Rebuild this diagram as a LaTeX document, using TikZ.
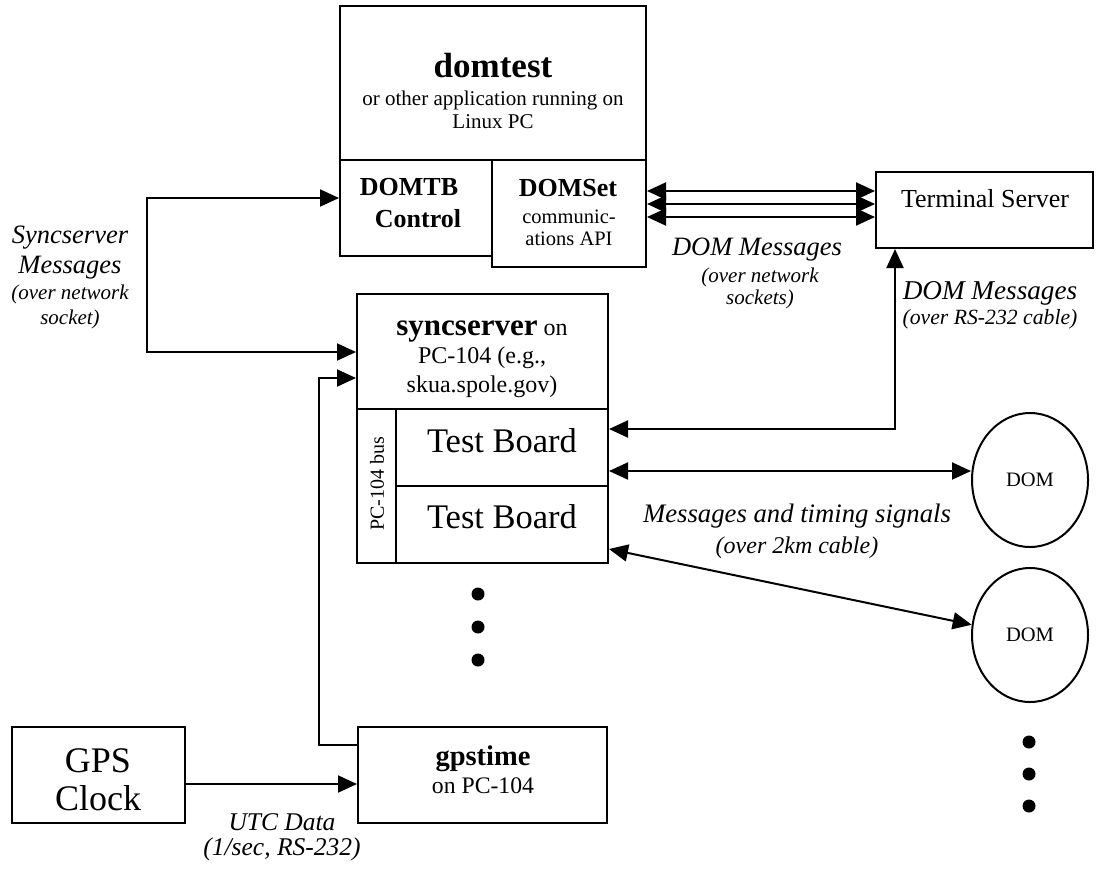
\documentclass[tikz,border=0pt]{standalone}
\usepackage{fontspec}
\setmainfont{Liberation Serif}
\usetikzlibrary{arrows.meta,shapes.geometric}
\newcommand\fsz[1]{\fontsize{#1}{#1}\selectfont}
\begin{document}
\begin{tikzpicture}[x=1pt,y=-1pt,
  box/.style={draw, line width=2pt, rectangle, inner sep=0pt},
  domell/.style={draw, line width=2pt, ellipse, inner sep=0pt, minimum width=116pt, minimum height=134pt, font=\fsz{20.5}},
  txt/.style={anchor=base, inner sep=0pt},
  dotn/.style={circle, fill=black, inner sep=0pt, minimum size=13pt},
  conn/.style={line width=2pt},
  arr/.style={conn, -{Triangle[length=19pt,width=17pt]}},
  darr/.style={conn, {Triangle[length=19pt,width=17pt]}-{Triangle[length=19pt,width=17pt]}}]
\useasboundingbox[fill=white] (0,0) rectangle (1099,871);

% boxes
\node[box, minimum width=306pt, minimum height=154pt] (domtest) at (493,83) {};
\node[box, minimum width=152pt, minimum height=96pt] (DOMTB) at (416,208) {};
\node[box, minimum width=154pt, minimum height=107pt] (DOMSet) at (569,213.5) {};
\node[box, minimum width=217pt, minimum height=76pt] (TS) at (984.5,210) {};
\node[box, minimum width=251pt, minimum height=115pt] (sync) at (482.5,351.5) {};
\node[box, minimum width=39pt, minimum height=154pt] (bus) at (376.5,486) {};
\node[box, minimum width=212pt, minimum height=77pt] (TB1) at (502,447.5) {};
\node[box, minimum width=212pt, minimum height=77pt] (TB2) at (502,524.5) {};
\node[box, minimum width=173pt, minimum height=96pt] (GPS) at (98.5,775) {};
\node[box, minimum width=249pt, minimum height=96pt] (gpstime) at (482.5,775) {};
\node[domell] (DOM1) at (1030,480) {DOM};
\node[domell] (DOM2) at (1030,635) {DOM};

% texts
\node[txt, font=\fsz{35}\bfseries] (t1) at (493,77) {domtest};
\node[txt, font=\fsz{21}] (t2) at (493,105) {or other application running on};
\node[txt, font=\fsz{21}] (t3) at (493,128) {Linux PC};
\node[txt, font=\fsz{26}\bfseries] (t4) at (409,195) {DOMTB};
\node[txt, font=\fsz{26}\bfseries] (t5) at (418,227) {Control};
\node[txt, font=\fsz{26}\bfseries] (t6) at (568,196) {DOMSet};
\node[txt, font=\fsz{20.5}] (t7) at (569,223) {communic-};
\node[txt, font=\fsz{20.5}] (t8) at (569,245) {ations API};
\node[txt, font=\fsz{26}] (t9) at (985,207) {Terminal Server};
\node[txt, font=\fsz{26.5}\itshape] (t10) at (757,255) {DOM Messages};
\node[txt, font=\fsz{21}\itshape] (t11) at (760,282) {(over network};
\node[txt, font=\fsz{21}\itshape] (t12) at (760,304) {sockets)};
\node[txt, font=\fsz{26.5}\itshape] (t13) at (70,243) {Syncserver};
\node[txt, font=\fsz{26.5}\itshape] (t14) at (70,273) {Messages};
\node[txt, font=\fsz{21}\itshape] (t15) at (70,299) {(over network};
\node[txt, font=\fsz{21}\itshape] (t16) at (70,324) {socket)};
\node[txt, font=\fsz{24}] (t17) at (482,335) {{\fsz{31}\bfseries syncserver} on};
\node[txt, font=\fsz{24}] (t18) at (482,363) {PC-104 (e.g.,};
\node[txt, font=\fsz{24}] (t19) at (482,392) {skua.spole.gov)};
\node[txt, font=\fsz{34.5}] (t20) at (502,452) {Test Board};
\node[txt, font=\fsz{34.5}] (t21) at (502,528) {Test Board};
\node[font=\fsz{20}, rotate=90, inner sep=0pt] (t22) at (377,484) {PC-104 bus};
\node[txt, font=\fsz{26.7}\itshape] (t23) at (797,522) {Messages and timing signals};
\node[txt, font=\fsz{24}\itshape] (t24) at (797,553) {(over 2km cable)};
\node[txt, font=\fsz{27.2}\itshape] (t25) at (990,299) {DOM Messages};
\node[txt, font=\fsz{21.7}\itshape] (t26) at (990,324) {(over RS-232 cable)};
\node[txt, font=\fsz{36}] (t27) at (98,772) {GPS};
\node[txt, font=\fsz{36}] (t28) at (98,810) {Clock};
\node[txt, font=\fsz{28.5}\bfseries] (t29) at (483,765) {gpstime};
\node[txt, font=\fsz{23.7}] (t30) at (483,793) {on PC-104};
\node[txt, font=\fsz{25.5}\itshape] (t31) at (282,830) {UTC Data};
\node[txt, font=\fsz{25.5}\itshape] (t32) at (282,855) {(1/sec, RS-232)};

% dots
\node[dotn] (d1) at (478,594) {};
\node[dotn] (d2) at (478,627) {};
\node[dotn] (d3) at (478,660) {};
\node[dotn] (d4) at (1029,742) {};
\node[dotn] (d5) at (1029,774) {};
\node[dotn] (d6) at (1029,806) {};

% connector corners
\coordinate (sm1) at (147,198);
\coordinate (sm2) at (147,352);
\coordinate (g1) at (319,745);
\coordinate (g2) at (319,378);
\coordinate (u1) at (0,784);
\coordinate (tl) at (895,429);
\coordinate (y1) at (0,191);
\coordinate (y2) at (0,204);
\coordinate (y3) at (0,217);
\coordinate (y4) at (0,471);
\coordinate (y5) at (0,549);

% connectors
\draw[darr] (DOMTB.west |- sm1) -- (sm1) -- (sm2) -- (sync.west |- sm2);
\draw[arr] (gpstime.west |- g1) -- (g1) -- (g2) -- (sync.west |- g2);
\draw[arr] (GPS.east |- u1) -- (gpstime.west |- u1);
\draw[darr] (DOMSet.east |- y1) -- (TS.west |- y1);
\draw[darr] (DOMSet.east |- y2) -- (TS.west |- y2);
\draw[darr] (DOMSet.east |- y3) -- (TS.west |- y3);
\draw[darr] (TS.south -| tl) -- (tl) -- (TB1.east |- tl);
\draw[darr] (TB1.east |- y4) -- (DOM1.west |- y4);
\draw[darr] (TB2.east |- y5) -- (DOM2.170);
\end{tikzpicture}
\end{document}
